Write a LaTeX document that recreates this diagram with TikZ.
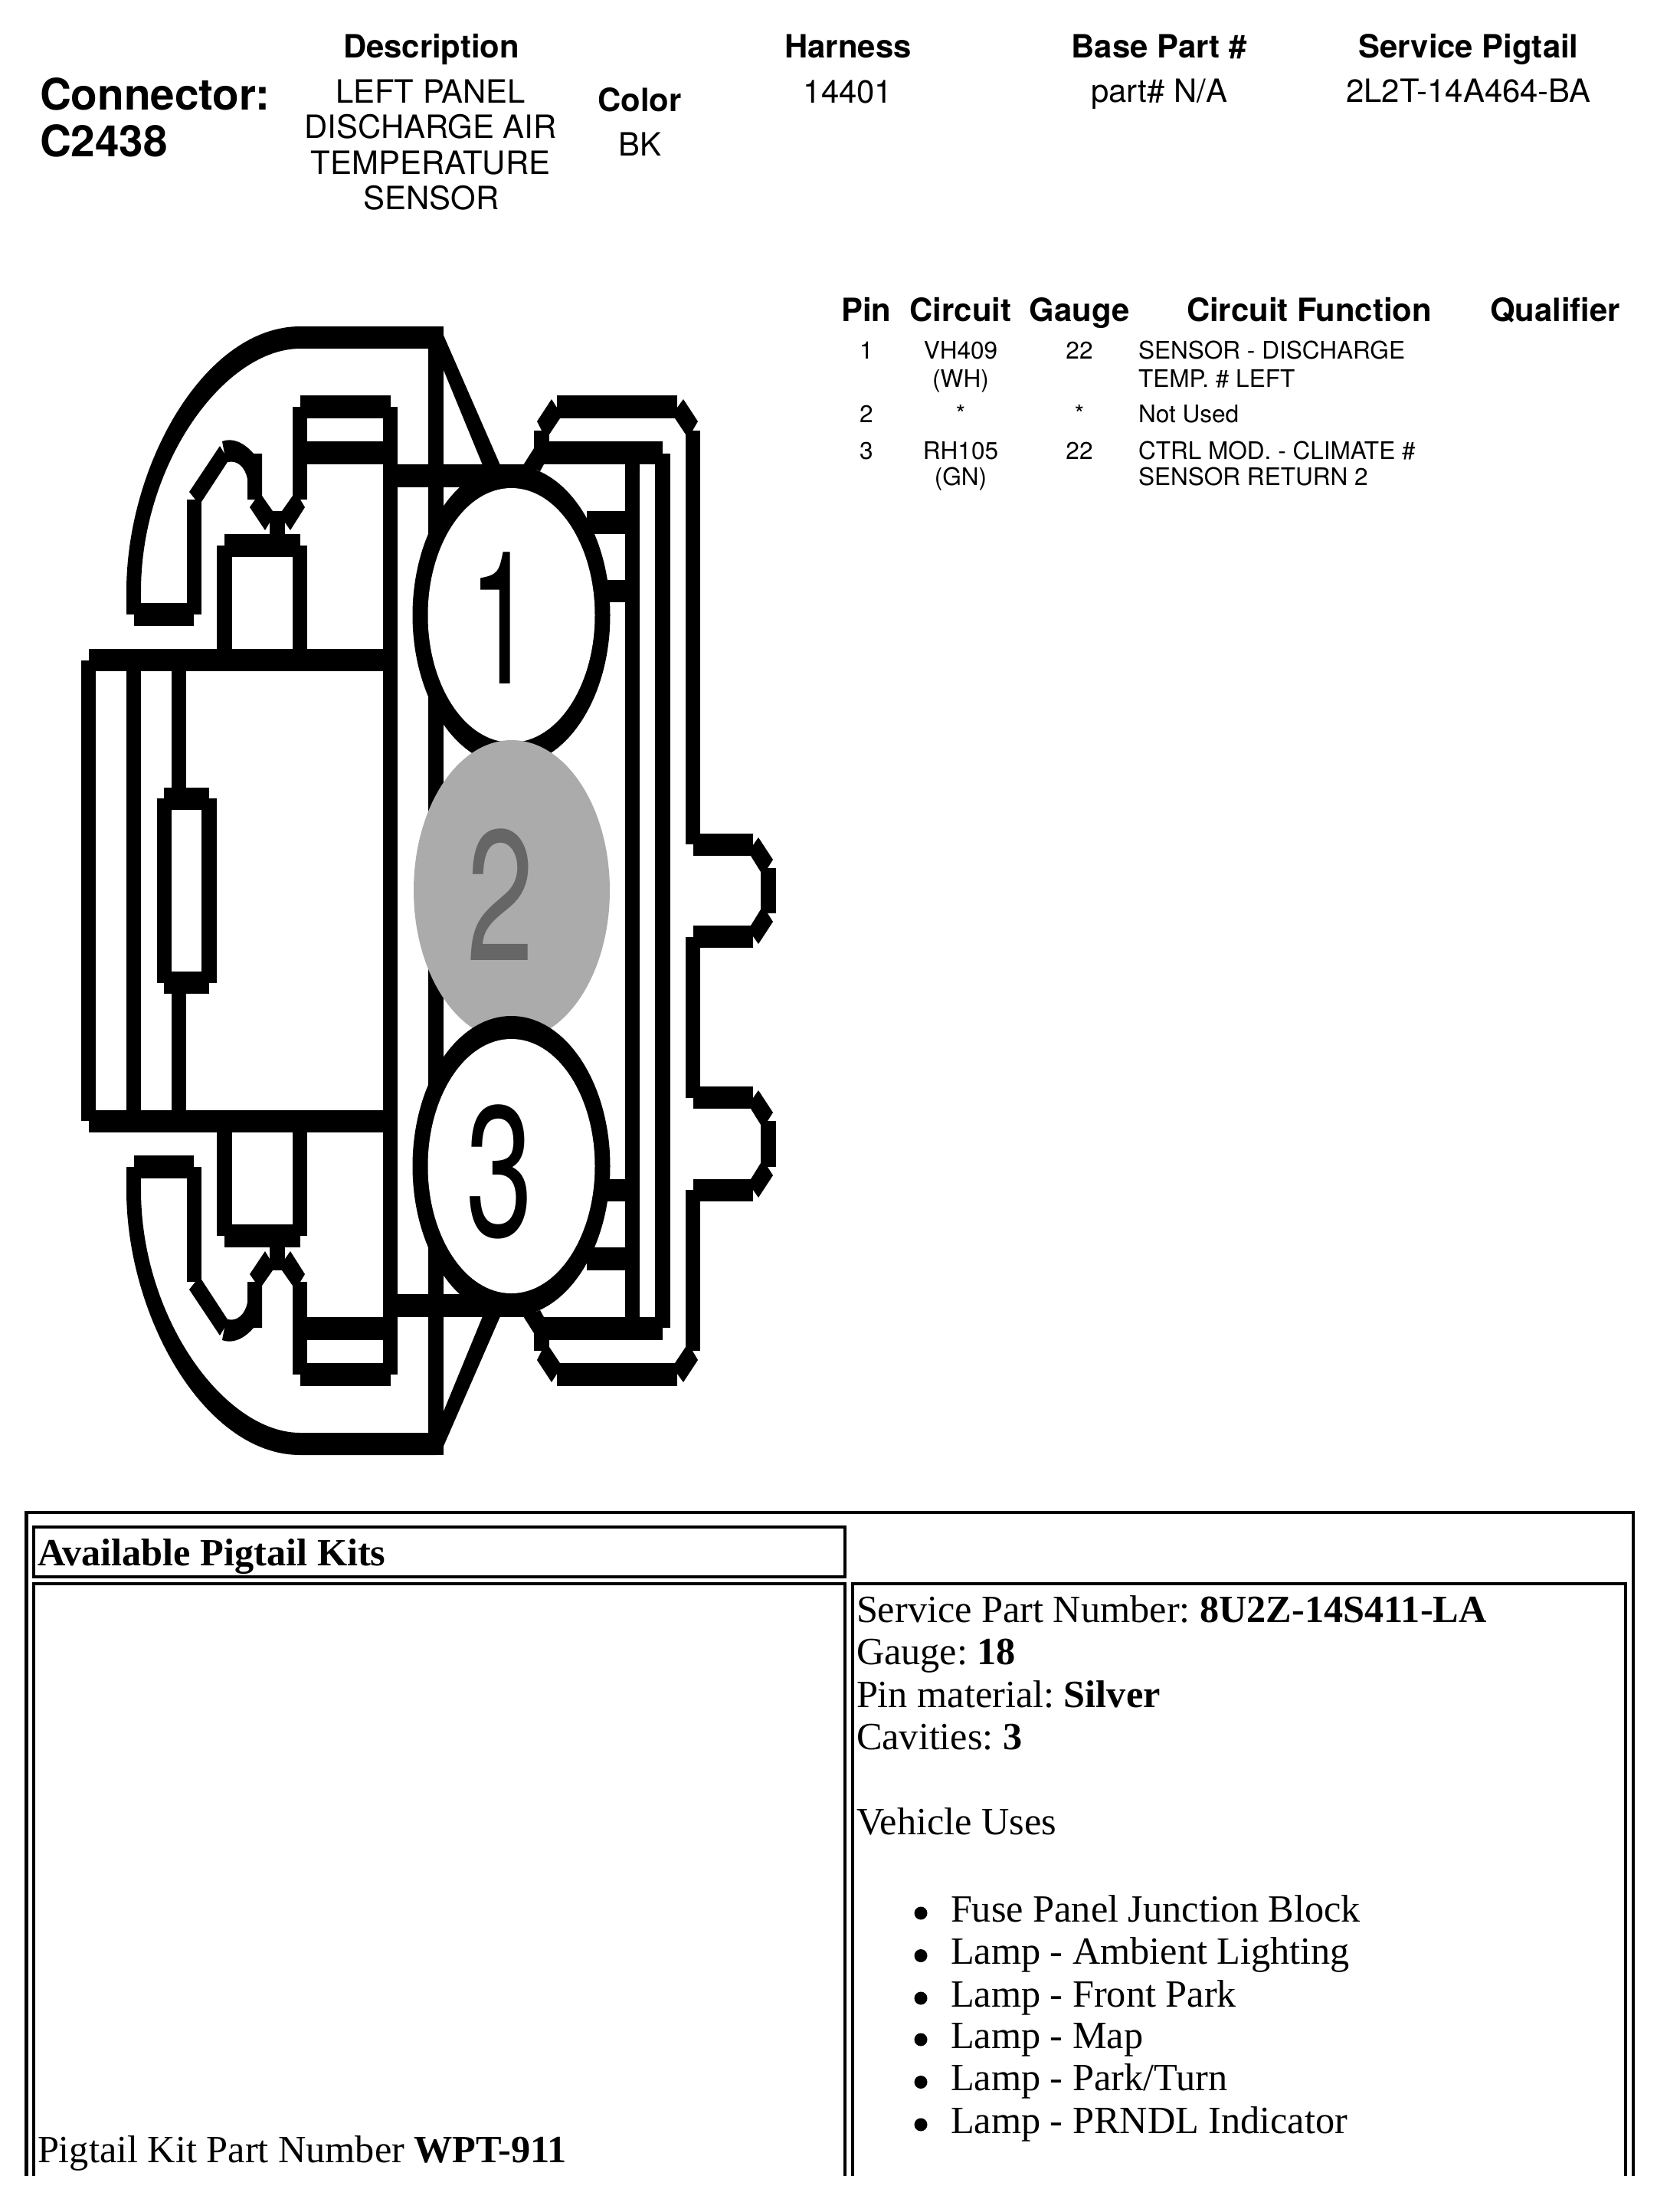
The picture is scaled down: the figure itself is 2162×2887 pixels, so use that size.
\documentclass[tikz,border=0pt]{standalone}
\usepackage{fontspec}
\setmainfont{TeX Gyre Heros}
\newfontfamily\tms{Liberation Serif}
\definecolor{pingrey}{HTML}{ABABAB}
\definecolor{pintext}{HTML}{666666}
\newcommand\bx[4]{\fill (#1,#2) rectangle (#3,#4);}
\newcommand\halfshape{%
  \fill (165,772) .. controls (165,607) and (267,426) .. (392,426) -- (569,426) -- (569,455) -- (392,455) .. controls (293,455) and (184,605) .. (184,772) -- cycle;
  \bx{165}{772}{184}{802}
  \bx{175}{787}{253}{817}
  \bx{244}{652}{263}{802}
  \fill (247,642) -- (287,582) -- (293,592) -- (302,602) -- (297,603) -- (263,655) -- (255,652) -- cycle;
  \fill (290,576) .. controls (303,571) and (318,577) .. (331,592) -- (342,592) -- (342,652) -- (323,652) -- (323,625) .. controls (320,610) and (310,600) .. (297,603) -- (293,592) -- cycle;
  \fill (333,652) -- (326,662) -- (346,692) -- (352,682) -- (352,667) -- (356,667) -- (342,647) -- cycle;
  \fill (382,647) -- (368,667) -- (372,667) -- (372,682) -- (379,692) -- (398,662) -- (392,652) -- cycle;
  \bx{352}{667}{372}{700}
  \bx{293}{697}{392}{727}
  \bx{283}{712}{303}{850}
  \bx{382}{712}{401}{850}
  \bx{382}{531}{401}{652}
  \bx{392}{516}{510}{546}
  \bx{392}{576}{510}{606}
  \bx{510}{606}{700}{636}
  \fill (577,433) -- (653,607) -- (630,607) -- (579,483) -- cycle;
  \fill (720,521) -- (727,532) -- (727,546) -- (731,546) -- (717,567) -- (707,562) -- (701,550) -- cycle;
  \bx{727}{516}{884}{546}
  \fill (884,532) -- (892,521) -- (911,550) -- (904,562) -- (895,567) -- (881,546) -- (884,546) -- cycle;
  \bx{697}{562}{717}{585}
  \fill (697,585) -- (683,607) -- (705,615) -- (710,606) -- (717,585) -- cycle;
  \bx{707}{576}{865}{606}
  \bx{766}{667}{816}{697}
  \bx{780}{757}{816}{786}
  \bx{116}{847}{519}{876}
  \bx{214}{1028}{273}{1057}
  \bx{224}{862}{243}{1042}
  \bx{205}{1042}{224}{1165}
  \bx{263}{1042}{283}{1165}
}
\newcommand\tabtop{%
  \bx{905}{0}{983}{29}
  \fill (990,5) -- (1009,34) -- (1002,45) -- (993,50) -- (980,29) -- (983,29) -- (983,15) -- cycle;
  \bx{993}{45}{1013}{76}
}
\tikzset{
  txt/.style={inner sep=0pt,outer sep=0pt,anchor=base},
  lft/.style={inner sep=0pt,outer sep=0pt,anchor=base west},
  fbig/.style={font=\fontsize{16.1}{18}\selectfont\bfseries},
  fhead/.style={font=\fontsize{11.9}{14}\selectfont\bfseries},
  fbody/.style={font=\fontsize{11.9}{14}\selectfont},
  fsmall/.style={font=\fontsize{8.97}{11}\selectfont},
  ftimes/.style={font=\tms\fontsize{14.3}{16}\selectfont\frenchspacing},
  digit/.style={inner sep=0pt,outer sep=0pt,anchor=base,font=\fontsize{68.9}{70}\selectfont,transform shape,xscale=.65},
  frameb/.style={draw=black,line width=0.04cm,fill=none},
}
\begin{document}
\begin{tikzpicture}[x=0.01cm,y=-0.01cm]
\useasboundingbox (0,0) rectangle (2162,2887);
\fill[white] (0,0) rectangle (2162,2887);
% header
\node[lft,fbig] (conn) at (52,143) {Connector:};
\node[lft,fbig] (cnum) at (52,204) {C2438};
\node[txt,fhead] (hdesc) at (563,75) {Description};
\node[txt,fbody] (d1) at (562,134) {LEFT PANEL};
\node[txt,fbody] (d2) at (562,180) {DISCHARGE AIR};
\node[txt,fbody] (d3) at (562,227) {TEMPERATURE};
\node[txt,fbody] (d4) at (563,273) {SENSOR};
\node[txt,fhead] (hcol) at (835,145) {Color};
\node[txt,fbody] (vcol) at (835,203) {BK};
\node[txt,fhead] (hhar) at (1107,75) {Harness};
\node[txt,fbody] (vhar) at (1107,134) {14401};
\node[txt,fhead] (hbase) at (1513,75) {Base Part \#};
\node[txt,fbody] (vbase) at (1513,133) {part\# N/A};
\node[txt,fhead] (hsvc) at (1917,75) {Service Pigtail};
\node[txt,fbody] (vsvc) at (1917,133) {2L2T-14A464-BA};
% pin table
\node[txt,fhead] (tpin) at (1131,419) {Pin};
\node[txt,fhead] (tcir) at (1254,419) {Circuit};
\node[txt,fhead] (tgau) at (1409,419) {Gauge};
\node[txt,fhead] (tfun) at (1709,419) {Circuit Function};
\node[txt,fhead] (tqua) at (2030,419) {Qualifier};
\node[txt,fsmall] (r1a) at (1131,468) {1};
\node[txt,fsmall] (r1b) at (1254,468) {VH409};
\node[txt,fsmall] (r1c) at (1254,505) {(WH)};
\node[txt,fsmall] (r1d) at (1409,468) {22};
\node[lft,fsmall] (r1e) at (1486,468) {SENSOR - DISCHARGE};
\node[lft,fsmall] (r1f) at (1486,505) {TEMP. \# LEFT};
\node[txt,fsmall] (r2a) at (1131,551) {2};
\node[txt,fsmall] (r2b) at (1254,551) {*};
\node[txt,fsmall] (r2d) at (1409,551) {*};
\node[lft,fsmall] (r2e) at (1486,551) {Not Used};
\node[txt,fsmall] (r3a) at (1131,599) {3};
\node[txt,fsmall] (r3b) at (1254,599) {RH105};
\node[txt,fsmall] (r3c) at (1254,633) {(GN)};
\node[txt,fsmall] (r3d) at (1409,599) {22};
\node[lft,fsmall] (r3e) at (1486,599) {CTRL MOD. - CLIMATE \#};
\node[lft,fsmall] (r3f) at (1486,633) {SENSOR RETURN 2};
% connector drawing
\halfshape
\begin{scope}[cm={1,0,0,-1,(0,2325)}]\halfshape\end{scope}
\bx{106}{862}{125}{1463}
\bx{165}{862}{184}{1463}
\bx{500}{531}{519}{1794}
\bx{559}{426}{579}{1899}
\bx{816}{606}{835}{1719}
\bx{855}{592}{875}{1733}
% right side and tabs
\bx{895}{562}{914}{1102}
\bx{895}{1223}{914}{1433}
\bx{895}{1553}{914}{1763}
\begin{scope}[shift={(0,1088)}]\tabtop\end{scope}
\begin{scope}[cm={1,0,0,-1,(0,2325)}]\begin{scope}[shift={(0,1088)}]\tabtop\end{scope}\end{scope}
\begin{scope}[shift={(0,1418)}]\tabtop\end{scope}
\begin{scope}[cm={1,0,0,-1,(0,2986)}]\begin{scope}[shift={(0,1418)}]\tabtop\end{scope}\end{scope}
% pins
\fill (667.5,803) ellipse [x radius=129,y radius=196];
\fill[white] (667.5,803) ellipse [x radius=109,y radius=166];
\node[digit] (pa) at (655,892) {1};
\fill[pingrey] (668,1162) ellipse [x radius=128,y radius=196];
\node[digit,text=pintext] (pb) at (653,1253) {2};
\fill (667.5,1522) ellipse [x radius=129,y radius=196];
\fill[white] (667.5,1522) ellipse [x radius=109,y radius=166];
\node[digit] (pc) at (652,1613) {3};
% kit table
\draw[frameb] (34.5,2840) -- (34.5,1974) -- (2132,1974) -- (2132,2840);
\draw[frameb] (44,1993) rectangle (1103,2058);
\draw[frameb] (44,2840) -- (44,2067) -- (1103,2067) -- (1103,2840);
\draw[frameb] (1113,2840) -- (1113,2067) -- (2122,2067) -- (2122,2840);
\node[lft,ftimes] (kit) at (49,2043) {\bfseries Available Pigtail Kits};
\node[lft,ftimes] (s1) at (1118,2117) {Service Part Number: \textbf{8U2Z-14S411-LA}};
\node[lft,ftimes] (s2) at (1118,2172) {Gauge: \textbf{18}};
\node[lft,ftimes] (s3) at (1118,2228) {Pin material: \textbf{Silver}};
\node[lft,ftimes] (s4) at (1118,2283) {Cavities: \textbf{3}};
\node[lft,ftimes] (s5) at (1118,2394) {Vehicle Uses};
\foreach \yy/\lab/\nn in {2508/Fuse Panel Junction Block/a,2563.5/Lamp - Ambient Lighting/b,2619/Lamp - Front Park/c,2673/Lamp - Map/d,2728.5/Lamp - Park\slash Turn/e,2784/Lamp - PRNDL Indicator/f}{
  \fill (1202,\yy-11) circle (8.5);
  \node[lft,ftimes] (u\nn) at (1241,\yy) {\lab};
}
\node[lft,ftimes] (ptk) at (49,2822) {Pigtail Kit Part Number \textbf{WPT-911}};
\end{tikzpicture}
\end{document}
